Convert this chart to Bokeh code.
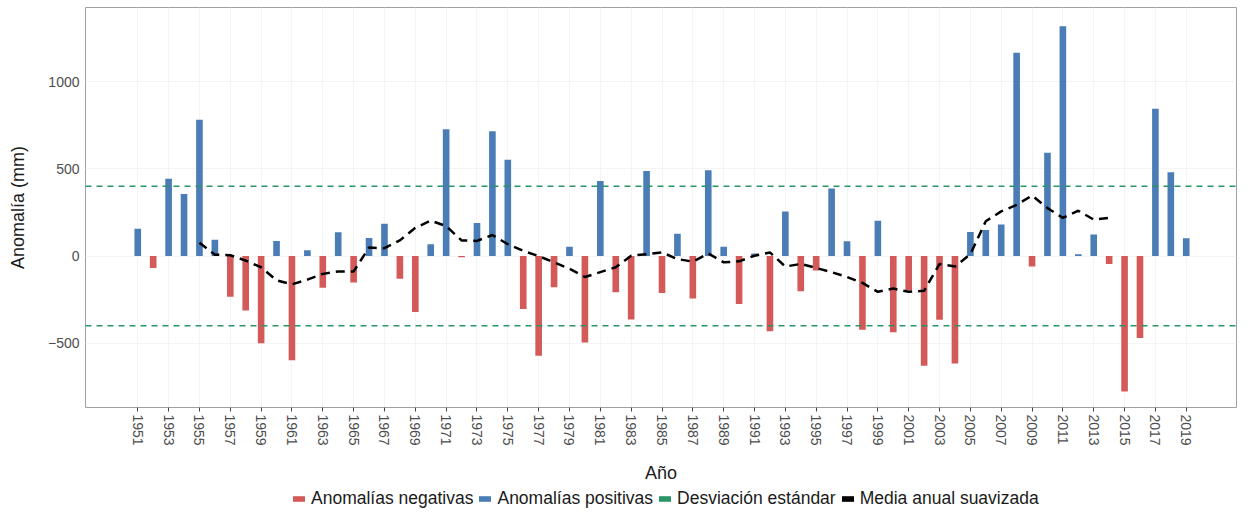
from bokeh.plotting import figure
from bokeh.layouts import column
from bokeh.models import (ColumnDataSource, Range1d, FixedTicker, Span, Legend, LegendItem)
from bokeh.embed import file_html
from bokeh.resources import INLINE

years = list(range(1951, 2020))
anomalies = [156, -68, 443, 356, 782, 93, -233, -312, -499, 87,
             -597, 34, -182, 136, -152, 104, 185, -130, -320, 68,
             727, -7, 190, 716, 552, -303, -571, -179, 53, -495,
             430, -207, -363, 488, -211, 128, -243, 492, 53, -275,
             15, -431, 256, -201, -83, 388, 85, -422, 203, -437,
             -196, -629, -365, -616, 138, 149, 181, 1166, -60, 592,
             1317, 11, 124, -45, -776, -469, 844, 480, 102]

smooth_years = list(range(1955, 2015))
smooth_values = [77, 8, 5, -26, -64, -139, -162, -135, -102, -88,
                 -88, 49, 45, 90, 162, 203, 172, 90, 87, 121,
                 68, 30, 0, -36, -73, -120, -92, -64, 2, 11,
                 21, -17, -32, 15, -36, -30, 2, 21, -60, -45,
                 -68, -92, -120, -154, -205, -186, -205, -199, -45, -60,
                 11, 200, 256, 294, 347, 275, 219, 260, 209, 219]

std_dev = 400
x_ticks = list(range(1951, 2020, 2))
y_ticks = [-500, 0, 500, 1000]

legend_labels = ["Anomalías negativas", "Anomalías positivas",
                 "Desviación estándar", "Media anual suavizada"]

RED = "#d45a5a"
BLUE = "#4a7db5"
GREEN = "#2a9466"
BLACK = "#000000"
FONT = "Liberation Sans"

neg = ColumnDataSource(dict(x=[y for y, a in zip(years, anomalies) if a < 0],
                            top=[a for a in anomalies if a < 0]))
pos = ColumnDataSource(dict(x=[y for y, a in zip(years, anomalies) if a >= 0],
                            top=[a for a in anomalies if a >= 0]))
smooth = ColumnDataSource(dict(x=smooth_years, y=smooth_values))

W = 1238
p_main = figure(width=W, height=487, output_backend="svg", toolbar_location=None,
                x_range=Range1d(1947.61, 2022.26), y_range=Range1d(-868, 1425),
                min_border_left=85, min_border_right=2, min_border_top=7, min_border_bottom=80)

p_main.outline_line_color = "#a0a0a0"
p_main.outline_line_width = 1
p_main.background_fill_color = "white"
p_main.xgrid.grid_line_color = "#f4f4f4"
p_main.ygrid.grid_line_color = "#f4f4f4"
p_main.xgrid.ticker = FixedTicker(ticks=x_ticks)
p_main.ygrid.ticker = FixedTicker(ticks=y_ticks)

p_main.vbar(x="x", top="top", bottom=0, width=0.43, source=neg,
            fill_color=RED, line_color=None)
p_main.vbar(x="x", top="top", bottom=0, width=0.43, source=pos,
            fill_color=BLUE, line_color=None)

for v in (std_dev, -std_dev):
    p_main.add_layout(Span(location=v, dimension="width", line_color=GREEN,
                           line_width=1.5, line_dash="6 5"))

p_main.line(x="x", y="y", source=smooth, line_color=BLACK, line_width=2.5, line_dash="9 6")

# x axis
p_main.xaxis.ticker = FixedTicker(ticks=x_ticks)
p_main.xaxis.major_label_orientation = "vertical"
p_main.xaxis.axis_label = "Año"
p_main.xaxis.axis_line_color = None
p_main.xaxis.major_tick_line_color = "#444444"
p_main.xaxis.major_tick_out = 4
p_main.xaxis.major_tick_in = 0
p_main.xaxis.minor_tick_line_color = None
p_main.xaxis.major_label_standoff = 3
p_main.xaxis.axis_label_standoff = 14

# y axis
p_main.yaxis.ticker = FixedTicker(ticks=y_ticks)
p_main.yaxis.axis_label = "Anomalía (mm)"
p_main.yaxis.axis_line_color = None
p_main.yaxis.major_tick_line_color = None
p_main.yaxis.minor_tick_line_color = None
p_main.yaxis.major_tick_out = 0
p_main.yaxis.major_label_standoff = 6
p_main.yaxis.axis_label_standoff = 17

for ax in (p_main.xaxis, p_main.yaxis):
    ax.major_label_text_font = FONT
    ax.major_label_text_font_size = "14px"
    ax.major_label_text_color = "#4d4d4d"
    ax.axis_label_text_font = FONT
    ax.axis_label_text_font_size = "18px"
    ax.axis_label_text_font_style = "normal"
    ax.axis_label_text_color = "#1a1a1a"

# legend strip: its own small figure; key renderers are hidden (legend keys only)
p_leg = figure(width=W, height=24, output_backend="svg", toolbar_location=None,
               x_range=Range1d(0, 1), y_range=Range1d(0, 1),
               min_border_left=0, min_border_right=0, min_border_top=0, min_border_bottom=0)
p_leg.axis.visible = False
p_leg.grid.visible = False
p_leg.outline_line_color = None
k_red = p_leg.vbar(x="x", top="top", bottom=0, width=0.4, source=neg,
                   fill_color=RED, line_color=None, visible=False)
k_blue = p_leg.vbar(x="x", top="top", bottom=0, width=0.4, source=pos,
                    fill_color=BLUE, line_color=None, visible=False)
k_green = p_leg.vbar(x="x", top="y", bottom=0, width=0.4, source=smooth,
                     fill_color=GREEN, line_color=None, visible=False)
k_black = p_leg.vbar(x="x", top="y", bottom=0, width=0.4, source=smooth,
                     fill_color=BLACK, line_color=None, visible=False)

legend = Legend(items=[LegendItem(label=l, renderers=[r]) for l, r in
                       zip(legend_labels, [k_red, k_blue, k_green, k_black])],
                orientation="horizontal", location=(206, 2),
                glyph_width=15, glyph_height=7, label_standoff=5, spacing=4,
                label_text_font=FONT, label_text_font_size="17.5px", label_text_color="#1a1a1a",
                label_height=18, padding=0, margin=0, border_line_color=None,
                background_fill_alpha=0)
p_leg.add_layout(legend)

p = column(p_main, p_leg, spacing=0)

open("out.html", "w").write(file_html(p, INLINE))
